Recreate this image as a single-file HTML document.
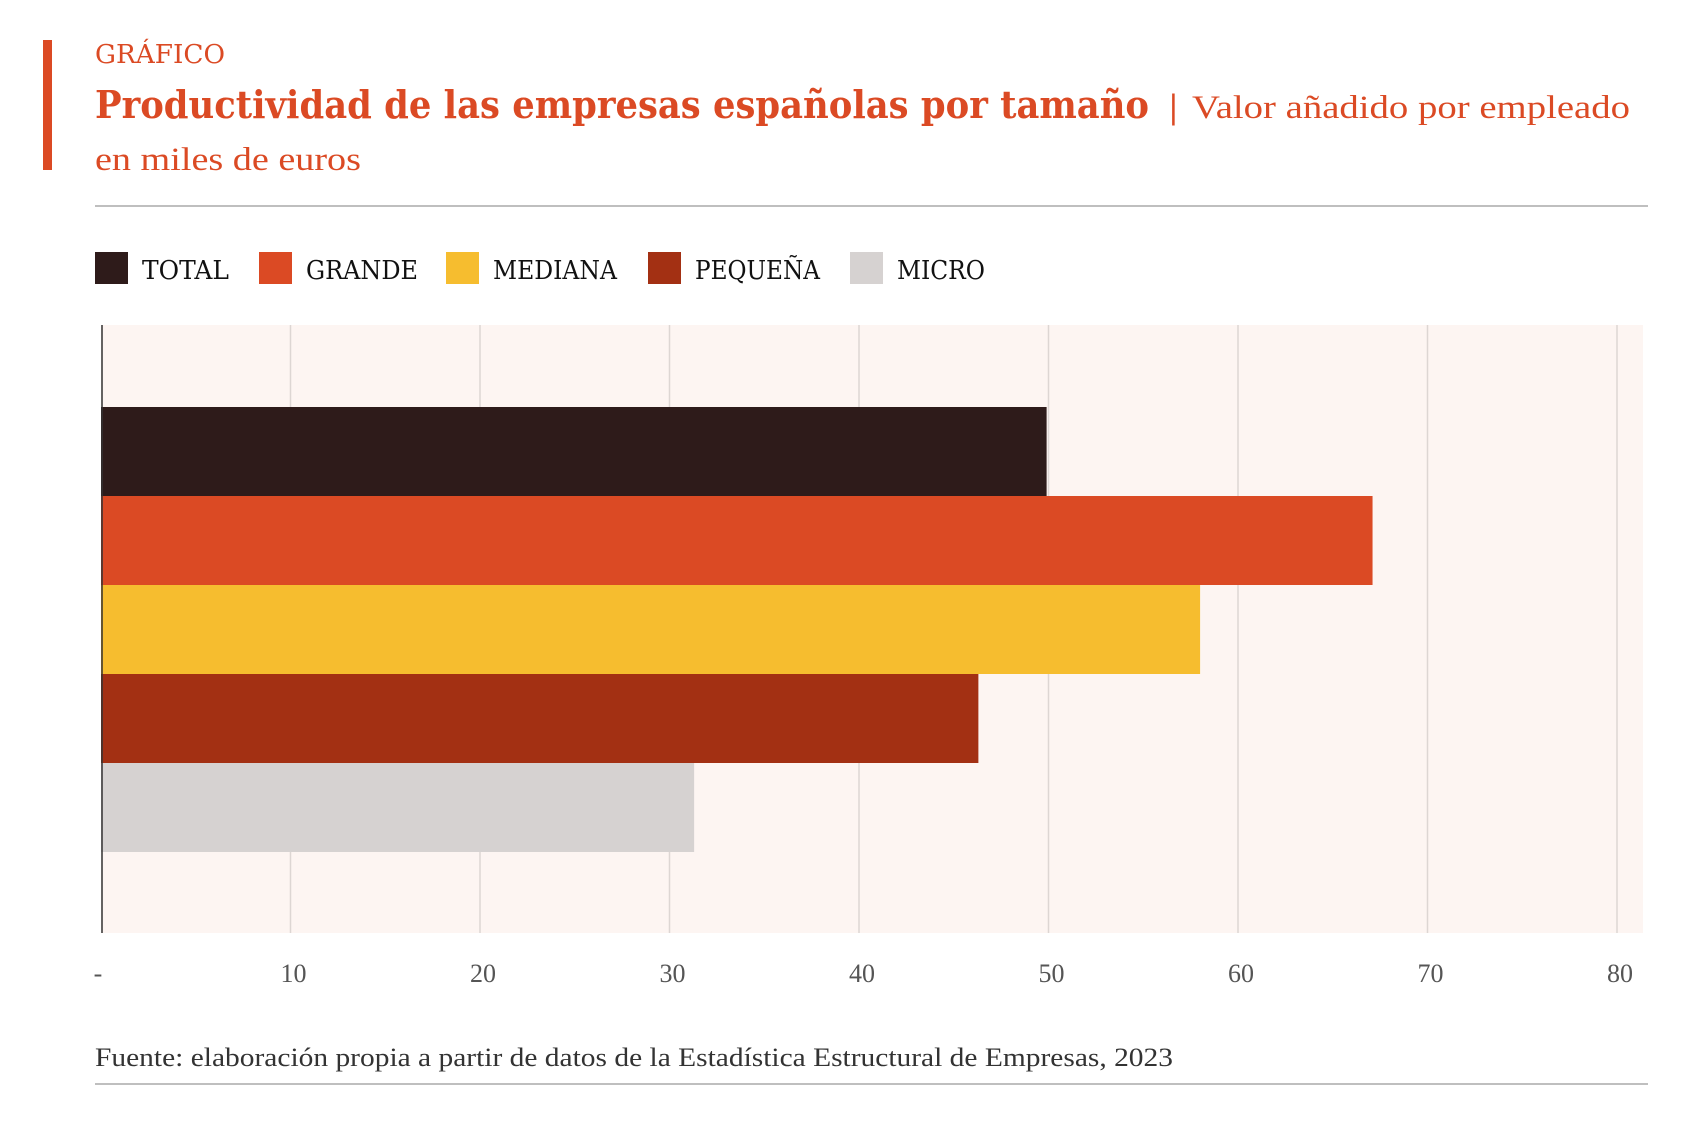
<!DOCTYPE html>
<html><head><meta charset="utf-8"><style>
html,body{margin:0;padding:0;background:#fff;}
svg{display:block;}
text{font-family:"DejaVu Serif","Liberation Serif",serif;}
</style></head><body>
<svg id="chart" width="1685" height="1125" viewBox="0 0 1685 1125" xmlns="http://www.w3.org/2000/svg">
<rect x="43" y="40" width="9" height="130" fill="#db4a24"/>
<text x="95" y="63" font-size="26" fill="#db4a24" textLength="130" lengthAdjust="spacingAndGlyphs">GRÁFICO</text>
<text x="95" y="118" font-size="38" font-weight="bold" fill="#db4a24" textLength="1054" lengthAdjust="spacingAndGlyphs">Productividad de las empresas españolas por tamaño</text>
<text x="1168" y="118" font-size="32" fill="#db4a24">|</text>
<text x="1192" y="118" font-size="33" fill="#db4a24" textLength="438" lengthAdjust="spacingAndGlyphs" style="font-family:'Liberation Serif',serif">Valor añadido por empleado</text>
<text x="95" y="170" font-size="33" fill="#db4a24" textLength="266" lengthAdjust="spacingAndGlyphs" style="font-family:'Liberation Serif',serif">en miles de euros</text>
<line x1="95" y1="206" x2="1648" y2="206" stroke="#aaa" stroke-width="1.5"/>
<g id="legend"></g>
<rect x="101" y="325" width="1542" height="608" fill="#fdf5f2"/>
<g id="grid"></g>
<g id="bars"></g>
<line x1="102" y1="325" x2="102" y2="933" stroke="#333" stroke-width="1.5"/>
<g id="ticks"></g>
<text x="95" y="1066" font-size="26" fill="#333" textLength="1078" lengthAdjust="spacingAndGlyphs" style="font-family:'Liberation Serif',serif">Fuente: elaboración propia a partir de datos de la Estadística Estructural de Empresas, 2023</text>
<line x1="95" y1="1084" x2="1648" y2="1084" stroke="#aaa" stroke-width="1.5"/>
</svg>
<script>
const categories = ["TOTAL","GRANDE","MEDIANA","PEQUEÑA","MICRO"];
const values = [49.9, 67.1, 58.0, 46.3, 31.3];
const tickValues = [0,10,20,30,40,50,60,70,80];
const tickLabels = ["-","10","20","30","40","50","60","70","80"];
const colors = ["#2e1b1a","#db4a24","#f6bd2f","#a33013","#d6d2d1"];
const NS="http://www.w3.org/2000/svg";
const x0=101, pxPer=18.95;
function xScale(v){return x0+v*pxPer;}
const barTop=407, barH=89;
function yScale(i){return barTop+i*barH;}
function mk(tag,attrs,parent){const e=document.createElementNS(NS,tag);for(const k in attrs)e.setAttribute(k,attrs[k]);parent.appendChild(e);return e;}
const grid=document.getElementById('grid'), ticks=document.getElementById('ticks');
tickValues.forEach((v,i)=>{
  if(v>0){const l=mk('line',{x1:xScale(v),x2:xScale(v),y1:325,y2:933,stroke:'#ddd6d3','stroke-width':1.5},grid);
  
  }
  const t=mk('text',{x:v===0?xScale(v)-3:xScale(v)+3,y:982,'font-size':26,fill:'#555','text-anchor':'middle'},ticks);
  t.style.fontFamily="'Liberation Serif',serif";
  t.textContent=tickLabels[i];
  
  
});
const bars=document.getElementById('bars');
values.forEach((v,i)=>{
  const r=mk('rect',{x:x0,y:yScale(i),width:xScale(v)-x0,height:barH,fill:colors[i]},bars);
  
  
});
const legend=document.getElementById('legend');
const legX=[95,259,446,648,850], legW=[87,112,124,125,88];
categories.forEach((c,i)=>{
  const s=mk('rect',{x:legX[i],y:252,width:33,height:32,fill:colors[i]},legend);
  
  
  const t=mk('text',{x:legX[i]+47,y:279,'font-size':26,fill:'#111',textLength:legW[i],lengthAdjust:'spacingAndGlyphs'},legend);
  t.textContent=c;
  
  
});
</script>
</body></html>
